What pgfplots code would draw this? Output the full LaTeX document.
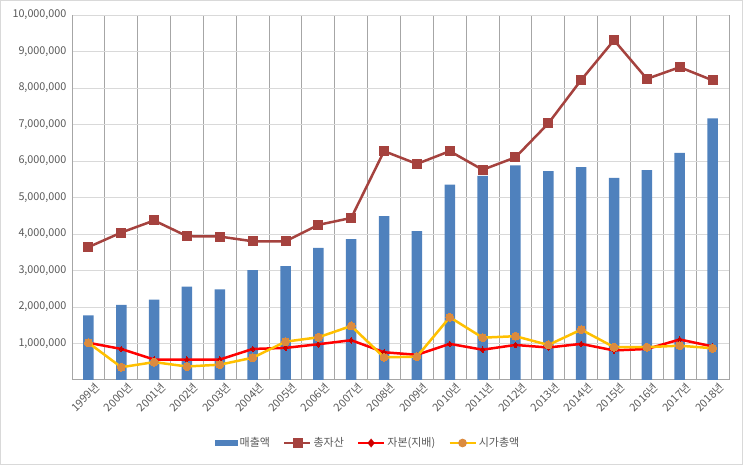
\documentclass[border=0pt]{standalone}
\usepackage{fontspec}
\setmainfont{Noto Sans CJK KR}
\usepackage{pgfplots}
\usepackage{pgfplotstable}
\pgfplotsset{compat=1.18}
\definecolor{cbar}{HTML}{4F81BD}
\definecolor{cbrown}{HTML}{A5423E}
\definecolor{cred}{HTML}{FF0000}
\definecolor{cyel}{HTML}{FFC000}
\definecolor{corange}{HTML}{DB8B3F}
\definecolor{ctick}{HTML}{595959}
\pgfplotstableread{
x sales total cap mkt
0  1770000 3640000 1020000 1020000
1  2060000 4040000 0850000 0350000
2  2200000 4370000 0560000 0490000
3  2560000 3940000 0560000 0370000
4  2480000 3930000 0560000 0420000
5  3010000 3800000 0850000 0610000
6  3120000 3800000 0880000 1050000
7  3620000 4250000 0980000 1170000
8  3860000 4440000 1090000 1480000
9  4490000 6270000 0760000 0620000
10 4080000 5920000 0690000 0640000
11 5350000 6270000 0990000 1720000
12 5590000 5760000 0830000 1160000
13 5880000 6100000 0960000 1200000
14 5720000 7030000 0890000 0960000
15 5830000 8220000 0990000 1380000
16 5540000 9310000 0810000 0900000
17 5750000 8250000 0850000 0900000
18 6220000 8570000 1110000 0940000
19 7170000 8210000 0920000 0870000
}\datatable
\begin{document}
\begin{tikzpicture}
\draw[black!15] (0.5pt,0.5pt) rectangle (742.5pt,464.5pt);
\begin{axis}[
  at={(72pt,85pt)}, anchor=south west,
  scale only axis, width=657pt, height=365pt,
  xmin=-0.5, xmax=19.5, ymin=0, ymax=10000000,
  xtick={0,...,19},
  xticklabels={1999년,2000년,2001년,2002년,2003년,2004년,2005년,2006년,2007년,2008년,2009년,2010년,2011년,2012년,2013년,2014년,2015년,2016년,2017년,2018년},
  minor xtick={-0.5,0.5,...,19.5},
  ytick={1000000,2000000,3000000,4000000,5000000,6000000,7000000,8000000,9000000,10000000},
  scaled y ticks=false,
  /pgf/number format/fixed, /pgf/number format/1000 sep={,}, /pgf/number format/assume math mode=true,
  ymajorgrids, xminorgrids,
  major grid style={draw=black!15, line width=0.8pt},
  minor grid style={draw=black!35, line width=1pt},
  major tick length=0pt, minor tick length=0pt,
  axis x line*=bottom, axis y line*=left,
  axis line style={draw=black!35, line width=1pt, -},
  tick label style={font=\fontsize{10.8}{12}\selectfont, text=ctick},
  xticklabel style={font=\fontsize{11}{12}\selectfont, rotate=45, anchor=east, inner sep=1pt, xshift=4pt, yshift=-10pt},
  yticklabel style={xshift=-2pt},
  legend columns=4,
  legend style={draw=none, fill=none, at={(0.4505,-0.1726)}, anchor=center,
    font=\fontsize{11}{12}\selectfont, text=ctick,
    /tikz/every even column/.append style={column sep=11pt}},
  legend cell align=left,
]
\addplot[ybar, bar width=10.5pt, fill=cbar, draw=none,
  legend image code/.code={\fill[cbar] (0pt,-3pt) rectangle (23pt,3pt);}]
  table[x=x, y=sales] {\datatable};
\addlegendentry{매출액}
\addplot[cbrown, line width=2.5pt, mark=square*, mark size=4.5pt, mark options={line width=0pt, fill=cbrown, draw=cbrown},
  legend image code/.code={\draw[cbrown, line width=2.5pt] (0pt,0pt) -- (26pt,0pt); \fill[cbrown] (10pt,-3.5pt) rectangle (17pt,3.5pt);}]
  table[x=x, y=total] {\datatable};
\addlegendentry{총자산}
\addplot[cred, line width=2.5pt, mark=diamond*, mark size=2.8pt, mark options={line width=0pt, fill=red!80!black, draw=red!80!black},
  legend image code/.code={\draw[cred, line width=2.5pt] (0pt,0pt) -- (26pt,0pt); \fill[red!80!black] (13pt,-2.5pt) -- (15pt,0pt) -- (13pt,2.5pt) -- (11pt,0pt) -- cycle;}]
  table[x=x, y=cap] {\datatable};
\addlegendentry{자본(지배)}
\addplot[cyel, line width=2.5pt, mark=*, mark size=4pt, mark options={line width=0pt, fill=corange, draw=corange},
  legend image code/.code={\draw[cyel, line width=2.5pt] (0pt,0pt) -- (26pt,0pt); \fill[corange] (13pt,0pt) circle (3pt);}]
  table[x=x, y=mkt] {\datatable};
\addlegendentry{시가총액}
\end{axis}
\pgfresetboundingbox
\path[use as bounding box] (0,0) rectangle (743pt,465pt);
\end{tikzpicture}
\end{document}
